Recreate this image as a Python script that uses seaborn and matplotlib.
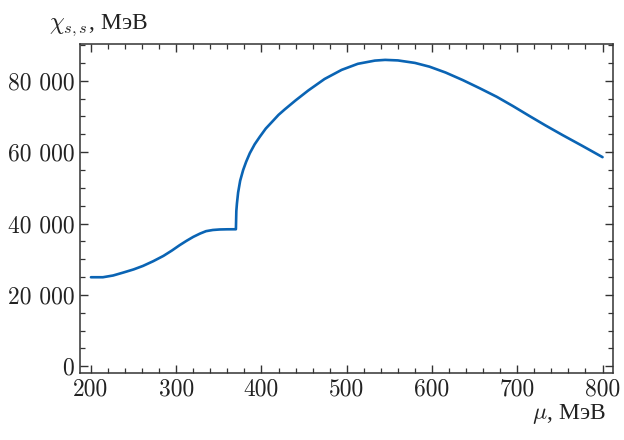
import matplotlib
matplotlib.use("Agg")
import matplotlib.pyplot as plt
import matplotlib.ticker as mticker
import seaborn as sns
import pandas as pd

mu = [200, 214, 226, 238, 250, 261, 273, 285, 295, 304, 312, 320, 328, 335, 343, 351, 360, 369.5,
      370, 370.5, 371.2, 372.6, 375, 378.5, 382, 386.3, 392, 398, 405, 413.6, 420, 427.4,
      440, 455, 474, 494, 513, 533, 545, 560, 580, 597, 616, 636,
      656, 676, 695, 714.5, 733, 753, 776, 800]
chi = [24960, 24960, 25450, 26280, 27150, 28130, 29450, 30940, 32450, 33940, 35150, 36270, 37200, 37870, 38200, 38340, 38390, 38400,
       38400, 43500, 45600, 48700, 52000, 55000, 57300, 59700, 62200, 64300, 66600, 68800, 70450, 72000,
       74500, 77300, 80500, 83050, 84750, 85650, 85850, 85700, 85000, 83950, 82300, 80200,
       77900, 75500, 72900, 70100, 67500, 64800, 61800, 58600]

x_label = r"$\mu$, МэВ"
y_label = r"$\chi_{s,s}$, МэВ"

sns.set_theme(style="ticks")
plt.rcParams["font.family"] = ["cmr10"]
plt.rcParams["mathtext.fontset"] = "cm"
plt.rcParams["axes.formatter.use_mathtext"] = True

fig = plt.figure(figsize=(6.24, 4.40), dpi=100)
ax = fig.add_axes([0.128, 0.152, 0.854, 0.748])

df = pd.DataFrame({"mu": mu, "chi": chi})
sns.lineplot(data=df, x="mu", y="chi", ax=ax, color="#0A64B4",
             linewidth=1.9, estimator=None, sort=False)

ax.set_xlim(187, 812)
ax.set_ylim(-1900, 90300)
ax.xaxis.set_major_locator(mticker.MultipleLocator(100))
ax.xaxis.set_minor_locator(mticker.MultipleLocator(20))
ax.yaxis.set_major_locator(mticker.MultipleLocator(20000))
ax.yaxis.set_minor_locator(mticker.MultipleLocator(5000))

def fmt(v, pos):
    return f"{int(round(v)):,}".replace(",", " ")
ax.yaxis.set_major_formatter(mticker.FuncFormatter(fmt))
ax.xaxis.set_major_formatter(mticker.FuncFormatter(lambda v, p: f"{int(round(v))}"))

edge = "#333333"
for s in ax.spines.values():
    s.set_linewidth(1.1)
    s.set_color(edge)
ax.tick_params(which="both", direction="in", top=True, right=True,
               color=edge, labelsize=17, labelcolor="#222222")
ax.tick_params(which="major", length=6, width=1.0, pad=4)
ax.tick_params(which="minor", length=3.5, width=0.9)

ax.set_xlabel("")
ax.set_ylabel("")
fig.text(0.971, 0.048, x_label, ha="right", va="baseline", fontsize=17,
         color="#222222", family=["Liberation Serif"])
fig.text(0.078, 0.935, y_label, ha="left", va="baseline", fontsize=17,
         color="#222222", family=["Liberation Serif"])

fig.savefig("out.png", dpi=100)
